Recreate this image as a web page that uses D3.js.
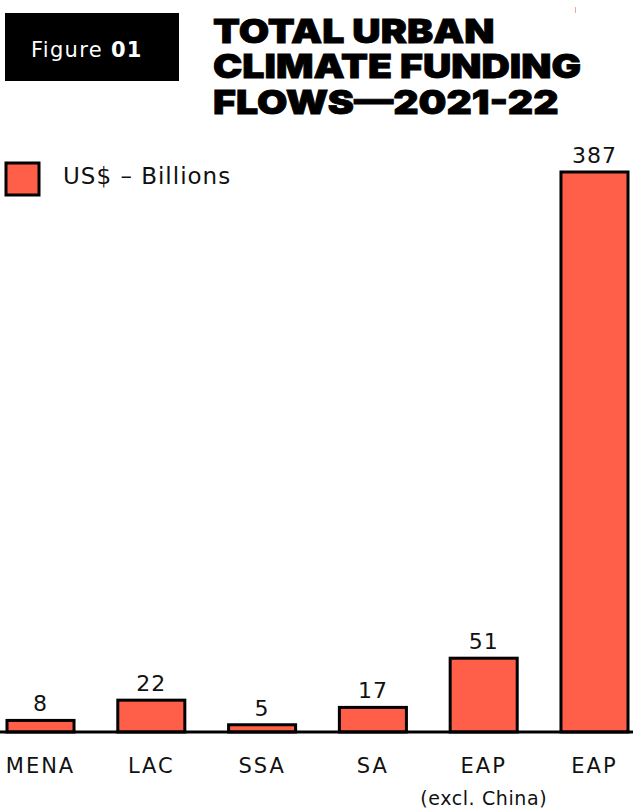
<!DOCTYPE html>
<html>
<head>
<meta charset="utf-8">
<script src="https://cdn.jsdelivr.net/npm/d3@7"></script>
<style>
  body { margin: 0; background: #fff; }
  text { font-family: "DejaVu Sans", "Noto Sans", sans-serif; }
</style>
</head>
<body>
<script>
const regions = ["MENA", "LAC", "SSA", "SA", "EAP", "EAP"];
const subLabels = ["", "", "", "", "(excl. China)", ""];
const funding = [8, 22, 5, 17, 51, 387];
const titleLines = ["TOTAL URBAN", "CLIMATE FUNDING", "FLOWS\u20142021-22"];

const width = 633, height = 808;
const baseY = 732;
const barColor = "#ff5e48";

const svg = d3.select("body").append("svg")
    .attr("width", width)
    .attr("height", height);

// header
svg.append("rect")
    .attr("x", 5).attr("y", 13)
    .attr("width", 174).attr("height", 68)
    .attr("fill", "#000");

const fig = svg.append("text")
    .attr("x", 31).attr("y", 57)
    .attr("fill", "#fff")
    .style("font-size", "21px")
    .style("letter-spacing", "1.3px");
fig.append("tspan").text("Figure ");
fig.append("tspan").style("font-weight", "bold").text("01");

// title, stretched a bit wider like the original heavy face
svg.append("g")
    .attr("transform", "translate(213,0) scale(1.19,1)")
    .selectAll("text")
    .data(titleLines)
    .enter()
    .append("text")
    .attr("x", 0)
    .attr("y", (d, i) => 43 + i * 35.5)
    .style("font-family", "Inter, 'Liberation Sans', sans-serif")
    .style("font-weight", 900)
    .style("font-size", "33px")
    .attr("fill", "#000")
    .attr("stroke", "#000")
    .attr("stroke-width", 0.8)
    .text(d => d);

// small stray mark top right
svg.append("line")
    .attr("x1", 575.5).attr("x2", 575.5)
    .attr("y1", 7).attr("y2", 13)
    .attr("stroke", "#f4a69a").attr("stroke-width", 1);

// scales
const x = d3.scaleBand()
    .domain(d3.range(regions.length))
    .range([7, 628])
    .paddingInner(0.395)
    .paddingOuter(0);

const y = d3.scaleLinear()
    .domain([0, 387])
    .range([baseY, 172]);

// legend
svg.append("rect")
    .attr("x", 6).attr("y", 163)
    .attr("width", 33).attr("height", 32)
    .attr("fill", barColor)
    .attr("stroke", "#000").attr("stroke-width", 3);
svg.append("text")
    .attr("x", 63).attr("y", 184)
    .style("font-size", "23px")
    .style("letter-spacing", "1px")
    .attr("fill", "#111")
    .text("US$ \u2013 Billions");

// bars
const bars = svg.append("g").selectAll("g")
    .data(funding)
    .enter()
    .append("g");

bars.append("rect")
    .attr("x", (d, i) => x(i))
    .attr("y", d => y(d))
    .attr("width", x.bandwidth())
    .attr("height", d => baseY - y(d))
    .attr("fill", barColor)
    .attr("stroke", "#000")
    .attr("stroke-width", 3);

bars.append("text")
    .attr("x", (d, i) => x(i) + x.bandwidth() / 2)
    .attr("y", d => y(d) - 9)
    .attr("text-anchor", "middle")
    .style("font-size", "22px")
    .style("letter-spacing", "1px")
    .attr("fill", "#111")
    .text(d => d);

// baseline
svg.append("line")
    .attr("x1", 0).attr("x2", width)
    .attr("y1", baseY).attr("y2", baseY)
    .attr("stroke", "#000").attr("stroke-width", 3);

// category labels
const labels = svg.append("g").selectAll("g")
    .data(regions)
    .enter()
    .append("g");

labels.append("text")
    .attr("x", (d, i) => x(i) + x.bandwidth() / 2)
    .attr("y", 773)
    .attr("text-anchor", "middle")
    .style("font-size", "21px")
    .style("letter-spacing", "2px")
    .attr("fill", "#111")
    .text(d => d);

labels.append("text")
    .attr("x", (d, i) => x(i) + x.bandwidth() / 2)
    .attr("y", 805)
    .attr("text-anchor", "middle")
    .style("font-size", "19px")
    .style("letter-spacing", "0.6px")
    .attr("fill", "#111")
    .text((d, i) => subLabels[i]);
</script>
</body>
</html>
